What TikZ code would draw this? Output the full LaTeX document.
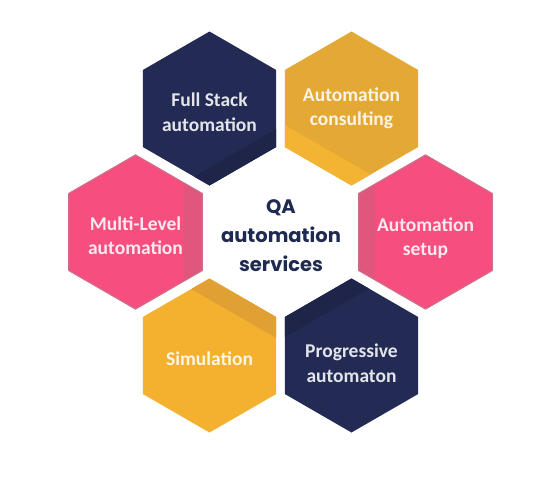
\documentclass[tikz,border=0pt]{standalone}
\usepackage{fontspec}
\setmainfont{Carlito}
\newfontfamily\centerfont{Poppins}
\usetikzlibrary{shapes.geometric}
\definecolor{navy}{HTML}{232B55}
\definecolor{navyd}{HTML}{1E2549}
\definecolor{gold}{HTML}{E4A834}
\definecolor{goldl}{HTML}{F3B433}
\definecolor{amber}{HTML}{F4B02F}
\definecolor{amberd}{HTML}{E0A033}
\definecolor{pinkm}{HTML}{F54E7F}
\definecolor{pinkd}{HTML}{E0567C}
\definecolor{pinke}{HTML}{CF6C88}
\definecolor{ctext}{HTML}{1F2A50}
\begin{document}
\begin{tikzpicture}[x=1pt,y=-1pt,
  hexa/.style={regular polygon, regular polygon sides=6, shape border rotate=30,
    minimum size=154pt, inner sep=0pt, outer sep=0pt},
  hextext/.style={text=white, text opacity=0.88, align=center,
    font=\fontsize{19.5}{24.5}\selectfont\bfseries, inner sep=0pt},
  centertext/.style={text=ctext, align=center,
    font=\centerfont\fontsize{19.5}{29}\selectfont\bfseries, inner sep=0pt}]
\useasboundingbox (0,0) rectangle (555,482);
\fill[white] (0,0) rectangle (555,482);

% top-left navy
\node[hexa, fill=navy, path picture={
  \begin{scope}[shift={(path picture bounding box.center)}]
  \fill[navyd] (-90,110.9) -- (90,7.1) -- (90,100) -- (-90,100) -- cycle;
  \end{scope}}] (hfs) at (209.5,108.5) {};
% top-right gold
\node[hexa, fill=gold, path picture={
  \begin{scope}[shift={(path picture bounding box.center)}]
  \fill[goldl] (-90,3.1) -- (90,106.9) -- (90,120) -- (-90,120) -- cycle;
  \end{scope}}] (hac) at (351.5,108.5) {};
% right pink
\node[hexa, fill=pinkm, draw=pinke, line width=1.2pt, path picture={
  \begin{scope}[shift={(path picture bounding box.center)}]
  \fill[pinkd] (-90,-100) rectangle (-50.5,100);
  \end{scope}}] (has) at (425.5,232) {};
% bottom-right navy
\node[hexa, fill=navy, path picture={
  \begin{scope}[shift={(path picture bounding box.center)}]
  \fill[navyd] (-90,-5.1) -- (90,-108.9) -- (90,-120) -- (-90,-120) -- cycle;
  \end{scope}}] (hpa) at (351.5,355.5) {};
% bottom-left amber
\node[hexa, fill=amber, path picture={
  \begin{scope}[shift={(path picture bounding box.center)}]
  \fill[amberd] (-90,-107.9) -- (90,-4.1) -- (90,-120) -- (-90,-120) -- cycle;
  \end{scope}}] (hsim) at (209.5,355.5) {};
% left pink
\node[hexa, fill=pinkm, draw=pinke, line width=1.2pt, path picture={
  \begin{scope}[shift={(path picture bounding box.center)}]
  \fill[pinkd] (48.5,-100) rectangle (90,100);
  \end{scope}}] (hml) at (135.5,232) {};

\node[hextext] (tfs) at (209.5,112) {Full Stack\\automation};
\node[hextext] (tac) at (351.5,108.5) {Automation\\consulting};
\node[hextext] (tas) at (425.5,238) {Automation\\setup};
\node[hextext] (tpa) at (351.5,363) {Progressive\\automaton};
\node[hextext] (tsim) at (209.5,359) {Simulation};
\node[hextext] (tml) at (135.5,235.5) {Multi-Level\\automation};

\node[centertext] (center) at (281,236) {QA\\automation\\services};
\end{tikzpicture}
\end{document}
